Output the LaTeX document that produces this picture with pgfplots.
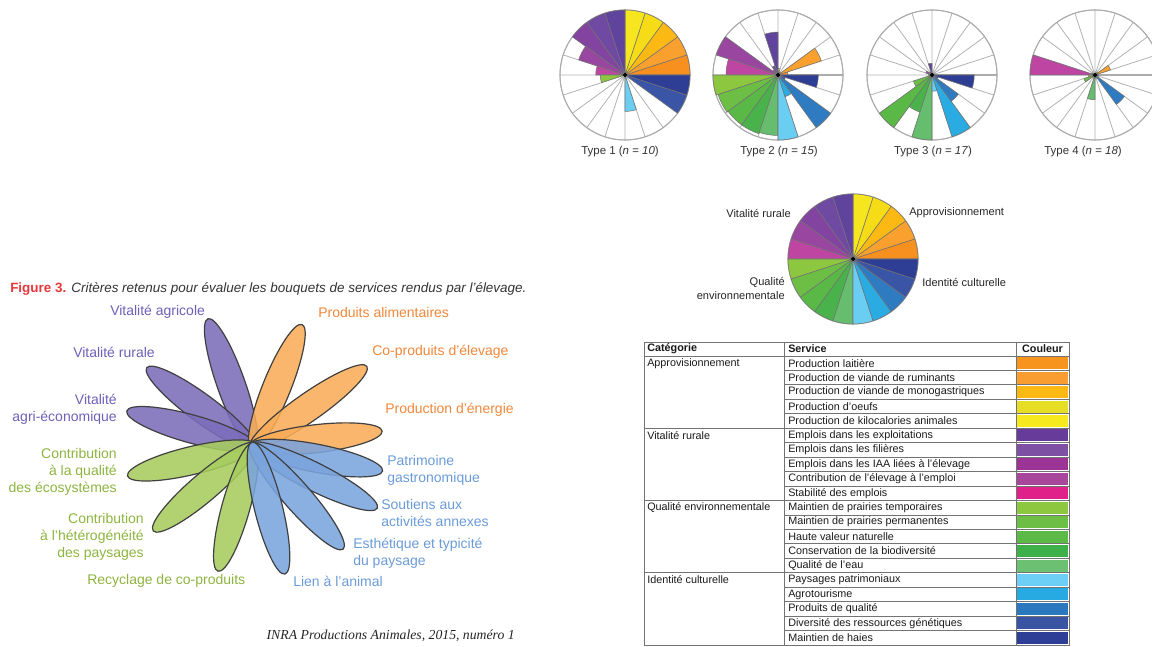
\documentclass[border=0pt]{standalone}
\usepackage{pgfplots}
\pgfplotsset{compat=1.18}
\usepgfplotslibrary{polar}
\usepackage{fontspec}
\setmainfont{Liberation Sans}
\newfontfamily\serifface{Liberation Serif}
\newcommand\fs[2]{\fontsize{#1}{#2}\selectfont}

% sector colours, counter-clockwise from 0 deg (18 deg each)
\definecolor{pc0}{HTML}{F7901E}
\definecolor{pc1}{HTML}{F9A02E}
\definecolor{pc2}{HTML}{FDB913}
\definecolor{pc3}{HTML}{F6DC16}
\definecolor{pc4}{HTML}{F5E620}
\definecolor{pc5}{HTML}{5F439D}
\definecolor{pc6}{HTML}{7049A3}
\definecolor{pc7}{HTML}{8343A0}
\definecolor{pc8}{HTML}{9846A0}
\definecolor{pc9}{HTML}{BE46A2}
\definecolor{pc10}{HTML}{8DC63F}
\definecolor{pc11}{HTML}{6DBE45}
\definecolor{pc12}{HTML}{5AB946}
\definecolor{pc13}{HTML}{49B24A}
\definecolor{pc14}{HTML}{66BD6E}
\definecolor{pc15}{HTML}{6ACEF2}
\definecolor{pc16}{HTML}{2AACE2}
\definecolor{pc17}{HTML}{2E7BC1}
\definecolor{pc18}{HTML}{3A55A5}
\definecolor{pc19}{HTML}{2D3E94}
% table swatches
\definecolor{tc1}{HTML}{F7941D}
\definecolor{tc2}{HTML}{F99D31}
\definecolor{tc3}{HTML}{FDB913}
\definecolor{tc4}{HTML}{E6DE24}
\definecolor{tc5}{HTML}{F6EA1E}
\definecolor{tc6}{HTML}{673B9A}
\definecolor{tc7}{HTML}{7E50A4}
\definecolor{tc8}{HTML}{9B3494}
\definecolor{tc9}{HTML}{A8469C}
\definecolor{tc10}{HTML}{E0218A}
\definecolor{tc11}{HTML}{8DC63F}
\definecolor{tc12}{HTML}{6DBE45}
\definecolor{tc13}{HTML}{5BB947}
\definecolor{tc14}{HTML}{3DB049}
\definecolor{tc15}{HTML}{6CC071}
\definecolor{tc16}{HTML}{6DCFF6}
\definecolor{tc17}{HTML}{27AAE1}
\definecolor{tc18}{HTML}{2B78BE}
\definecolor{tc19}{HTML}{3A54A4}
\definecolor{tc20}{HTML}{2E3D95}
% flower
\definecolor{fpur}{HTML}{7B6DBA}
\definecolor{forg}{HTML}{F9AC58}
\definecolor{fgrn}{HTML}{A7CC5E}
\definecolor{fblu}{HTML}{7AA4DD}
\definecolor{tpur}{HTML}{6E60B8}
\definecolor{torg}{HTML}{F0873A}
\definecolor{tgrn}{HTML}{8DB43F}
\definecolor{tblu}{HTML}{6A9BD8}
\definecolor{figred}{HTML}{E8373A}

\pgfplotsset{rosace/.style={
  scale only axis, width=97.5pt, height=97.5pt, anchor=center,
  ymin=0, ymax=1, xtick={0,18,...,342}, ytick={1},
  xticklabels={}, yticklabels={}, major tick length=0pt,
  grid=major, major grid style={gray!60, line width=0.6pt},
  axis line style={gray!65, line width=0.8pt}, clip=false}}

% radii of the 20 sectors, from 0 deg counter-clockwise
\newcommand\drawpie[1]{%
  \foreach \r [count=\i from 0] in {#1} {%
    \ifdim \r pt>0pt
      \pgfmathsetmacro\aa{18*\i}\pgfmathsetmacro\ab{18*\i+4.5}%
      \pgfmathsetmacro\ac{18*\i+9}\pgfmathsetmacro\ad{18*\i+13.5}%
      \pgfmathsetmacro\ae{18*\i+18}%
      \edef\tmp{\noexpand\addplot[fill=pc\i, draw=black!55, line width=0.4pt]
        coordinates {(0,0) (\aa,\r) (\ab,\r) (\ac,\r) (\ad,\r) (\ae,\r) (0,0)};}%
      \tmp
    \fi}%
  \addplot[only marks, mark=*, mark size=1.4pt, black] coordinates {(0,0)};}

\begin{document}
\begin{tikzpicture}[x=0.75pt,y=0.75pt]
\path[use as bounding box] (0,0) rectangle (1152,646);

% ---- the four types
\begin{polaraxis}[rosace, at={(468.75pt,428.25pt)}]
\drawpie{1,1,1,1,1, 1,1,1,0.75,0.45, 0.38,0,0,0,0, 0.56,0,0,1,1}
\end{polaraxis}
\begin{polaraxis}[rosace, at={(583.5pt,428.25pt)}]
\drawpie{0.15,0.7,0.05,0.05,0.1, 0.66,0.15,0.1,1,0.8, 1,0.97,0.95,0.95,0.93, 1,0.35,1,0.12,0.62}
\end{polaraxis}
\begin{polaraxis}[rosace, at={(699pt,428.25pt)}]
\drawpie{0.05,0.03,0,0,0, 0.18,0.05,0.05,0.1,0.05, 0.05,0.3,1,0.6,1, 0.25,1,0.5,0.1,0.65}
\end{polaraxis}
\begin{polaraxis}[rosace, at={(821.25pt,428.25pt)}]
\drawpie{0.05,0.25,0.05,0,0, 0,0,0,0.05,1, 0.1,0.18,0.05,0,0.38, 0.05,0.05,0.56,0.05,0.05}
\end{polaraxis}

\begin{scope}[every node/.style={inner sep=0pt}]
\foreach \x/\n/\k in {620/1/10, 779/2/15, 933/3/17, 1083/4/18}
  \node[font=\fs{8.6}{10}, text=black!80] at (\x,494) {Type \n\ (\textit{n} = \textit{\k})};
\end{scope}

% ---- reference pie
\begin{polaraxis}[rosace, at={(639.75pt,290.25pt)}]
\drawpie{1,1,1,1,1, 1,1,1,1,1, 1,1,1,1,1, 1,1,1,1,1}
\end{polaraxis}
\begin{scope}[font=\fs{8.3}{10.5}, text=black!85, every node/.style={inner sep=0pt}]
\node[anchor=east] at (791,433) {Vitalité rurale};
\node[anchor=west] at (909,433) {Approvisionnement};
\node[anchor=east, align=right] at (785,358) {Qualité\\environnementale};
\node[anchor=west] at (922,364) {Identité culturelle};
\end{scope}

% ---- table
\def\rh{14.45}
\begin{scope}[draw=black!55, line width=0.6pt]
\draw (644,304) rectangle (1069,{290-20*\rh});
\draw (784,304) -- (784,{290-20*\rh});
\draw (1016,304) -- (1016,{290-20*\rh});
\draw (644,290) -- (1069,290);
\foreach \i in {1,...,19} \draw (784,{290-\i*\rh}) -- (1069,{290-\i*\rh});
\foreach \i in {5,10,15} \draw (644,{290-\i*\rh}) -- (784,{290-\i*\rh});
\foreach \i in {1,...,20}
  \fill[tc\i] (1017.2,{290-(\i-1)*\rh-1.2}) rectangle (1067.8,{290-\i*\rh+1.2});
\end{scope}
\begin{scope}[font=\fs{8.1}{9.5}, text=black!90, every node/.style={inner sep=0pt}]
\node[anchor=west, font=\fs{8.1}{9.5}\bfseries] at (647,297) {Catégorie};
\node[anchor=west, font=\fs{8.1}{9.5}\bfseries] at (788,297) {Service};
\node[font=\fs{8.1}{9.5}\bfseries] at (1042.5,297) {Couleur};
\foreach \c [count=\i from 0] in {Approvisionnement, Vitalité rurale,
  Qualité environnementale, Identité culturelle}
  \node[anchor=west] at (647,{290-(5*\i+0.5)*\rh}) {\c};
\foreach \s [count=\i] in {Production laitière, Production de viande de ruminants,
  Production de viande de monogastriques, Production d'oeufs,
  Production de kilocalories animales, Emplois dans les exploitations,
  Emplois dans les filières, Emplois dans les IAA liées à l'élevage,
  Contribution de l'élevage à l'emploi, Stabilité des emplois,
  Maintien de prairies temporaires, Maintien de prairies permanentes,
  Haute valeur naturelle, Conservation de la biodiversité, Qualité de l'eau,
  Paysages patrimoniaux, Agrotourisme, Produits de qualité,
  Diversité des ressources génétiques, Maintien de haies}
  \node[anchor=west] at (788,{290-(\i-0.5)*\rh}) {\s};
\end{scope}

% ---- Figure 3 (left)
\node[anchor=west, inner sep=0pt, font=\fs{10.1}{11}, text=black!80] at (10,357)
  {\textcolor{figred}{\textbf{Figure 3.}} \textit{Critères retenus pour évaluer les bouquets de services rendus par l'élevage.}};
\begin{scope}[shift={(253,200)}]
\foreach \ang/\len/\col in {109.5/135/fpur, 143.6/132/fpur, 164.5/131/fpur,
  68/131/forg, 35/139/forg, 6.6/130/forg,
  -166.6/129/fgrn, -139.6/131/fgrn, -105.6/130/fgrn,
  -10.9/132/fblu, -26.6/139/fblu, -48.8/137/fblu, -76/132/fblu}
  \draw[rotate=\ang, fill=\col, fill opacity=0.88, draw=black!75, line width=0.9pt]
    ({\len/2-2},0) ellipse [x radius={\len/2+2}, y radius=14];
\end{scope}
\begin{scope}[font=\fs{10.5}{12.8}, every node/.style={inner sep=0pt}]
\node[anchor=west, text=tpur] at (110,334) {Vitalité agricole};
\node[anchor=west, text=tpur] at (73,294) {Vitalité rurale};
\node[anchor=east, align=right, text=tpur] at (117,237) {Vitalité\\agri-économique};
\node[anchor=west, text=torg] at (318,334) {Produits alimentaires};
\node[anchor=west, text=torg] at (372,294) {Co-produits d'élevage};
\node[anchor=west, text=torg] at (385,236) {Production d'énergie};
\node[anchor=west, align=left, text=tblu] at (387,176) {Patrimoine\\gastronomique};
\node[anchor=west, align=left, text=tblu] at (381,133) {Soutiens aux\\activités annexes};
\node[anchor=west, align=left, text=tblu] at (353,93) {Esthétique et typicité\\du paysage};
\node[anchor=west, text=tblu] at (293,65) {Lien à l'animal};
\node[anchor=east, align=right, text=tgrn] at (117,174) {Contribution\\à la qualité\\des écosystèmes};
\node[anchor=east, align=right, text=tgrn] at (144,109) {Contribution\\à l'hétérogénéité\\des paysages};
\node[anchor=west, text=tgrn] at (87,65) {Recyclage de co-produits};
\end{scope}
\node[anchor=east, inner sep=0pt, font=\serifface\itshape\fs{10.3}{12}, text=black!85] at (515,10)
  {INRA Productions Animales, 2015, numéro 1};
\end{tikzpicture}
\end{document}
